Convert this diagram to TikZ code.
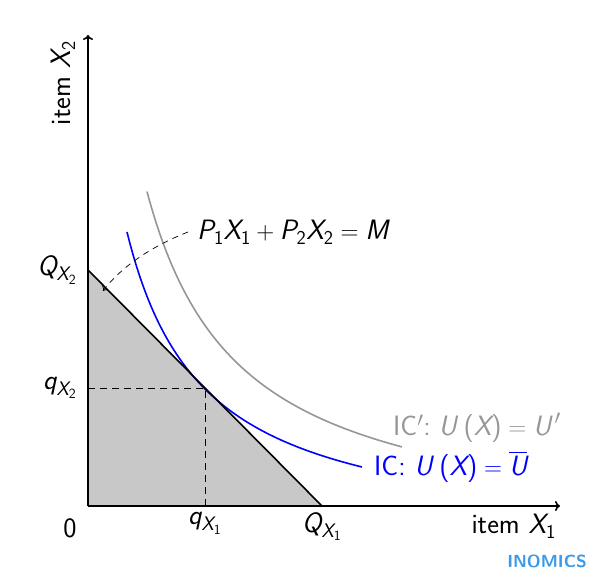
\documentclass[tikz,border=0pt]{standalone}
\usepackage{amsmath}
\usetikzlibrary{arrows.meta}
\definecolor{icgray}{RGB}{150,150,150}
\definecolor{fillgray}{RGB}{200,200,200}
\definecolor{inomics}{RGB}{58,154,232}
\newcommand{\si}[1]{\text{\itshape #1}}
\newcommand{\sn}[1]{\text{#1}}
\tikzset{
  axis/.style={line width=1.6pt,-{To[length=5pt,width=10pt]}},
  curve/.style={line width=1.6pt},
  guide/.style={line width=0.9pt,dash pattern=on 7pt off 5pt},
  lbl/.style={font=\sffamily\fontsize{28}{32}\selectfont,inner sep=0pt},
}
\begin{document}
\begin{tikzpicture}[x=1pt,y=1pt]
\useasboundingbox (-88,-72) rectangle (517,506);
% coordinates
\coordinate (O) at (0,0);
\coordinate (QX2) at (0,236);
\coordinate (QX1) at (234,0);
\coordinate (T) at (117,118);
\coordinate (Tx) at (117,0);
\coordinate (Ty) at (0,118);
\coordinate (xend) at (472,0);
\coordinate (yend) at (0,471);
% budget set
\fill[fillgray] (O) -- (QX2) -- (QX1) -- cycle;
\draw[guide] (Ty) -- (T) -- (Tx);
% indifference curves
\draw[curve,icgray] plot[domain=59:314,samples=120] (\x,{180*(180/(\x+34))-34});
\draw[curve,blue] plot[domain=39:274,samples=120] (\x,{155*(155/(\x+38))-38});
% budget line
\draw[curve,black] (QX2) -- (QX1);
% axes
\draw[axis] (O) -- (xend);
\draw[axis] (O) -- (yend);
% labels
\node[lbl,rotate=90] (ylab) at (-25,423) {item $\si{X}_{\sn{2}}$};
\node[lbl,anchor=north east] (xlab) at (468,-8) {item $\si{X}_{\sn{1}}$};
\node[lbl] (zero) at (-18,-22) {0};
\node[lbl,anchor=east] (lQX2) at (-11,236) {$\si{Q}_{\si{X}_{\sn{2}}}$};
\node[lbl,anchor=east] (lqX2) at (-11,118) {$\si{q}_{\si{X}_{\sn{2}}}$};
\node[lbl,anchor=north] (lqX1) at (117,-6) {$\si{q}_{\si{X}_{\sn{1}}}$};
\node[lbl,anchor=north] (lQX1) at (234,-6) {$\si{Q}_{\si{X}_{\sn{1}}}$};
\node[lbl,anchor=west] (budget) at (109,274) {$\si{P}_{\sn{1}}\si{X}_{\sn{1}}+\si{P}_{\sn{2}}\si{X}_{\sn{2}}=\si{M}$};
\node[lbl,anchor=west,text=icgray] (icp) at (305,78) {IC$^{\prime}$:\;$\si{U}\;\sn{(}\si{X}\sn{)}=\si{U}^{\,\prime}$};
\node[lbl,anchor=west,text=blue] (ic) at (286,39) {IC: $\si{U}\;\sn{(}\si{X}\sn{)}=\overline{\si{U}}$};
\node[font=\sffamily\bfseries\fontsize{17.5}{20}\selectfont,text=inomics,inner sep=0pt] (logo) at (459,-55) {INOMICS};
% pointer
\coordinate (ptr) at (15,215);
\draw[line width=0.7pt,dash pattern=on 6pt off 5pt,-{To[length=4pt,width=7pt]}] ([xshift=-9pt]budget.west) .. controls (72,263) and (37,244) .. (ptr);
\end{tikzpicture}
\end{document}
